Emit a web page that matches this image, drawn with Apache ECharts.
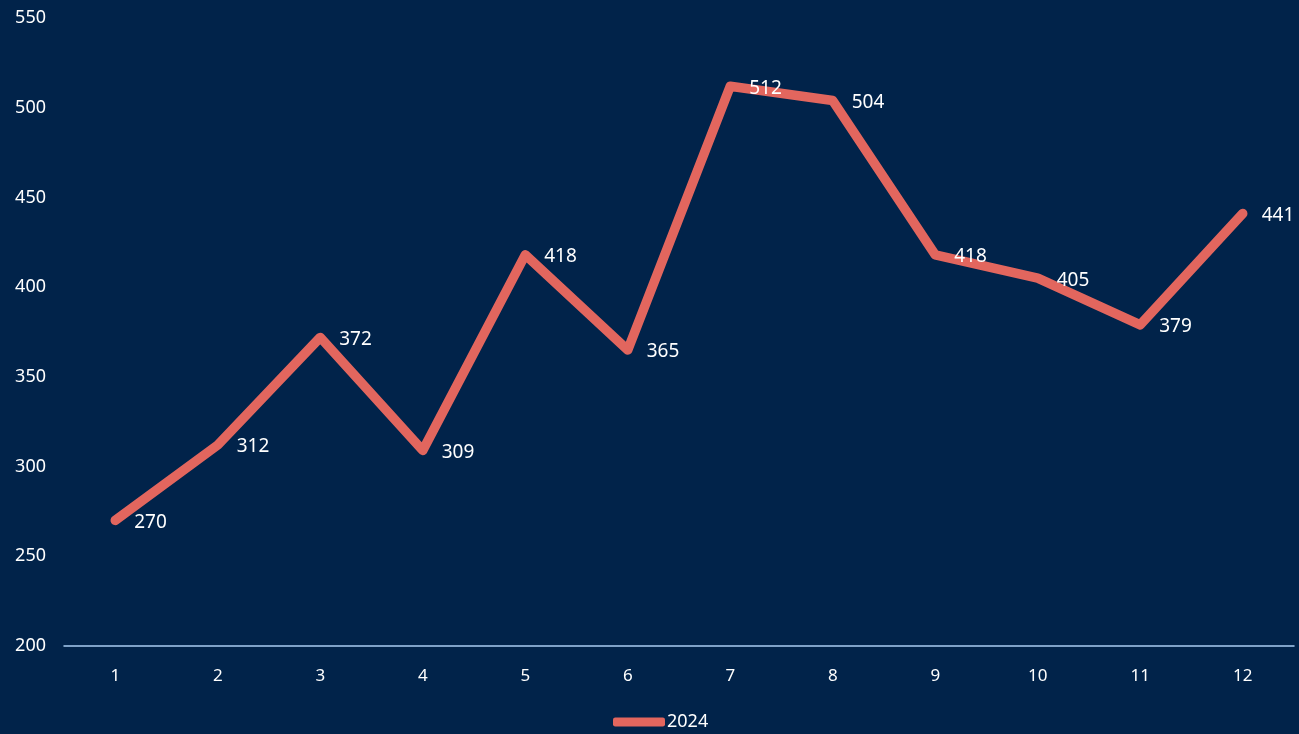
<!DOCTYPE html>
<html><head><meta charset="utf-8">
<script src="https://cdn.jsdelivr.net/npm/echarts@6/dist/echarts.min.js"></script>
<style>html,body{margin:0;padding:0;background:#01234a;}#c{width:1299px;height:734px;}</style>
</head><body><div id="c"></div>
<script>
const categories = ['1','2','3','4','5','6','7','8','9','10','11','12'];
const seriesName = '2024';
const values = [270, 312, 372, 309, 418, 365, 512, 504, 418, 405, 379, 441];
const yTicks = {min: 200, max: 550, interval: 50};

const chart = echarts.init(document.getElementById('c'));
const font = 'Noto Sans';
chart.setOption({
  backgroundColor: '#01234a',
  animation: false,
  textStyle: {fontFamily: font},
  grid: {left: 64, right: 5, top: 18, bottom: 88},
  legend: {
    bottom: -2, left: 608,
    data: [seriesName],
    icon: 'roundRect',
    itemWidth: 52, itemHeight: 9, itemGap: 2,
    textStyle: {color: '#ffffff', fontSize: 18, fontFamily: font, padding: [0,0,0,-3]}
  },
  xAxis: {
    type: 'category', data: categories, boundaryGap: true,
    axisLine: {lineStyle: {color: '#a9cdf2', width: 1.5}},
    axisTick: {show: false},
    axisLabel: {color: '#ffffff', fontSize: 17, margin: 22, fontFamily: font}
  },
  yAxis: {
    type: 'value', min: yTicks.min, max: yTicks.max, interval: yTicks.interval,
    axisLine: {show: false}, axisTick: {show: false}, splitLine: {show: false},
    axisLabel: {color: '#ffffff', fontSize: 18, margin: 18, align: 'right', fontFamily: font}
  },
  series: [{
    name: seriesName, type: 'line', data: values,
    symbol: 'circle', symbolSize: 0.01, showSymbol: true,
    lineStyle: {color: '#e2665e', width: 9.5, cap: 'round', join: 'round'},
    itemStyle: {color: '#e2665e'},
    label: {show: true, position: 'right', distance: 19, offset: [0, 2], color: '#ffffff', fontSize: 19, fontFamily: font}
  }]
});
</script></body></html>
